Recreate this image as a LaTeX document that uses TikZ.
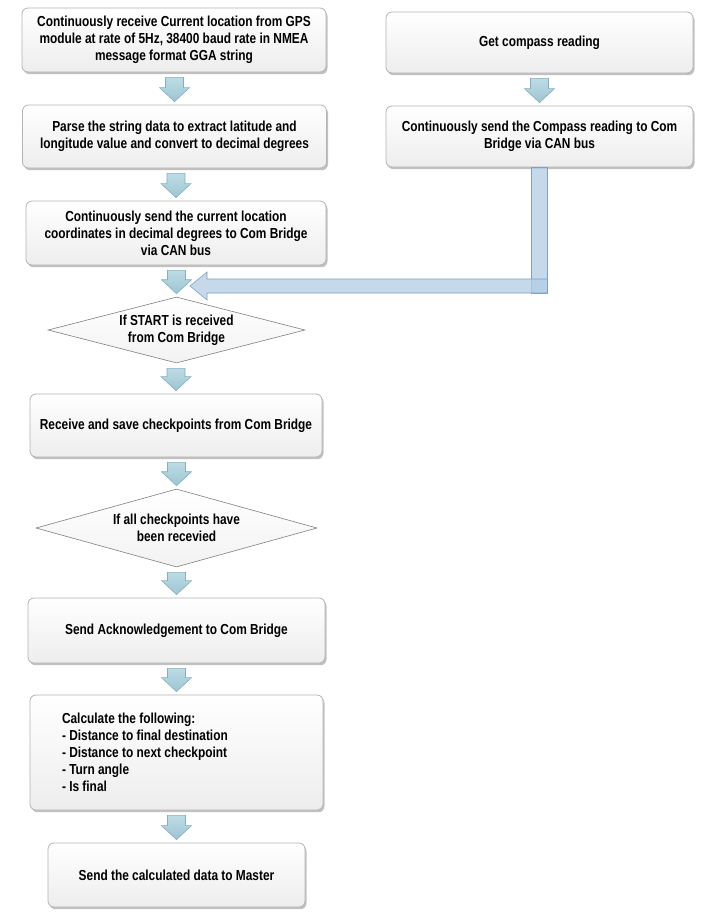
\documentclass[tikz,border=0pt]{standalone}
\usepackage{fontspec}
\setmainfont{Liberation Sans}[FakeStretch=0.82]
\usetikzlibrary{shapes.geometric,shadows,calc}
\definecolor{boxline}{HTML}{B4B4B4}
\definecolor{arrfillA}{HTML}{BCDCE5}
\definecolor{arrfillB}{HTML}{9EC5D2}
\definecolor{arrline}{HTML}{86AEBF}
\definecolor{lfill}{HTML}{B3CDE5}
\definecolor{lline}{HTML}{7DA2C6}
\newcommand\flowdown[2]{%
  \path[flowarrow] let \p1=(#1.south), \p2=(#2.north) in
    (\x2-9,\y1-5) -- (\x2+9,\y1-5) -- (\x2+9,\y2+17) -- (\x2+15,\y2+17) --
    (\x2,\y2+3) -- (\x2-15,\y2+17) -- (\x2-9,\y2+17) -- cycle;}
\begin{document}
\begin{tikzpicture}[x=1pt,y=-1pt,
  every node/.style={font=\bfseries\fontsize{14.5}{17}\selectfont, text=black},
  stepbox/.style={draw=boxline, line width=0.8pt, rounded corners=6pt,
    top color=white, bottom color=black!7,
    drop shadow={shadow xshift=1.5pt, shadow yshift=-2.2pt, opacity=0.4, fill=black!60},
    align=center, inner sep=0pt},
  decision/.style={diamond, draw=black!50, line width=0.6pt, top color=white,
    bottom color=black!5, aspect=3.95, inner sep=0pt, align=center},
  flowarrow/.style={draw=arrline, line width=0.6pt, top color=arrfillA, bottom color=arrfillB},
  lbar/.style={draw=lline, line width=0.6pt, fill=lfill, fill opacity=0.75},
  ]
\useasboundingbox (0,0) rectangle (702,913);
\fill[white] (0,0) rectangle (702,913);

\node[stepbox, minimum width=304pt, minimum height=64pt] (b1) at (174,40)
  {Continuously receive Current location from GPS\\module at rate of 5Hz, 38400 baud rate in NMEA\\message format GGA string};
\node[stepbox, minimum width=304pt, minimum height=63pt] (b2) at (174.5,136.5)
  {Parse the string data to extract latitude and\\longitude value and convert to decimal degrees};
\node[stepbox, minimum width=300pt, minimum height=64pt] (b3) at (176,233)
  {Continuously send the current location\\coordinates in decimal degrees to Com Bridge\\via CAN bus};
\node[stepbox, minimum width=307pt, minimum height=61pt] (c1) at (539.5,42.5)
  {Get compass reading};
\node[stepbox, minimum width=307pt, minimum height=61pt] (c2) at (539.5,136.5)
  {Continuously send the Compass reading to Com\\Bridge via CAN bus};
\node[decision, minimum width=257pt, minimum height=66pt] (d1) at (176.5,330)
  {If START is received\\from Com Bridge};
\node[stepbox, minimum width=292pt, minimum height=63pt] (b4) at (176,425.5)
  {Receive and save checkpoints from Com Bridge};
\node[decision, minimum width=281pt, minimum height=78pt] (d2) at (176.5,528)
  {If all checkpoints have\\been recevied};
\node[stepbox, minimum width=297pt, minimum height=65pt] (b5) at (176.5,630.5)
  {Send Acknowledgement to Com Bridge};
\node[stepbox, minimum width=293pt, minimum height=115pt, text width=229pt,
  align=flush left, inner xsep=32pt] (b6) at (176.5,752.5)
  {Calculate the following:\\- Distance to final destination\\- Distance to next checkpoint\\- Turn angle\\- Is final};
\node[stepbox, minimum width=257pt, minimum height=64pt] (b7) at (176.5,875)
  {Send the calculated data to Master};

\flowdown{b1}{b2}
\flowdown{b2}{b3}
\flowdown{b3}{d1}
\flowdown{d1}{b4}
\flowdown{b4}{d2}
\flowdown{d2}{b5}
\flowdown{b5}{b6}
\flowdown{b6}{b7}
\flowdown{c1}{c2}

\coordinate (merge) at (190,286);
\path[lbar] let \p1=(c2.south), \p2=(merge) in
  (\x1-8,\y1) rectangle (\x1+8,\y2-7);
\path[lbar] let \p1=(c2.south), \p2=(merge) in
  (\x1+8,\y2+7) -- (\x2+17,\y2+7) -- (\x2+17,\y2+14) -- (\x2,\y2) --
  (\x2+17,\y2-14) -- (\x2+17,\y2-7) -- (\x1+8,\y2-7) -- cycle;
\end{tikzpicture}
\end{document}
